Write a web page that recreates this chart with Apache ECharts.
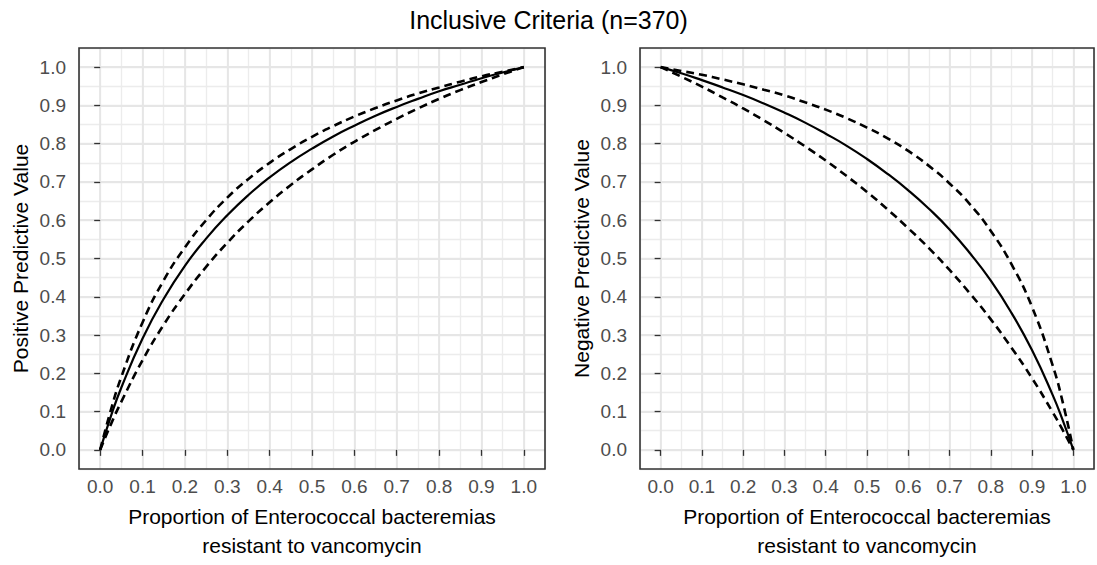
<!DOCTYPE html>
<html>
<head>
<meta charset="utf-8">
<script src="https://cdn.jsdelivr.net/npm/echarts@6/dist/echarts.min.js"></script>
<style>
  html, body { margin: 0; padding: 0; background: #fff; overflow: hidden; }
  #chart { width: 1097px; height: 565px; }
</style>
</head>
<body>
<div id="chart"></div>
<script>
// Werte
var prevLeft = [0, 0.025, 0.05, 0.1, 0.15, 0.2, 0.25, 0.3, 0.35, 0.4, 0.45, 0.5, 0.55, 0.6, 0.65, 0.7, 0.75, 0.8, 0.85, 0.9, 0.95, 1];
var ppvEst  = [0, 0.087, 0.163, 0.291, 0.395, 0.481, 0.552, 0.613, 0.666, 0.712, 0.752, 0.787, 0.819, 0.847, 0.873, 0.896, 0.917, 0.937, 0.954, 0.971, 0.986, 1];
var ppvHigh = [0, 0.103, 0.191, 0.333, 0.443, 0.529, 0.600, 0.659, 0.708, 0.750, 0.786, 0.818, 0.846, 0.871, 0.893, 0.913, 0.931, 0.947, 0.962, 0.976, 0.988, 1];
var ppvLow  = [0, 0.066, 0.126, 0.234, 0.327, 0.407, 0.478, 0.541, 0.597, 0.647, 0.692, 0.733, 0.771, 0.805, 0.836, 0.865, 0.892, 0.917, 0.940, 0.961, 0.981, 1];

var prevRight = [0, 0.05, 0.1, 0.15, 0.2, 0.25, 0.3, 0.35, 0.4, 0.45, 0.5, 0.55, 0.6, 0.65, 0.7, 0.75, 0.8, 0.85, 0.9, 0.95, 0.975, 1];
var npvEst  = [1, 0.984, 0.966, 0.947, 0.927, 0.905, 0.881, 0.855, 0.826, 0.795, 0.760, 0.721, 0.678, 0.630, 0.576, 0.513, 0.442, 0.358, 0.260, 0.143, 0.075, 0];
var npvHigh = [1, 0.990, 0.980, 0.968, 0.955, 0.941, 0.926, 0.908, 0.889, 0.867, 0.842, 0.814, 0.781, 0.742, 0.696, 0.641, 0.572, 0.485, 0.373, 0.220, 0.121, 0];
var npvLow  = [1, 0.975, 0.949, 0.921, 0.892, 0.861, 0.828, 0.793, 0.756, 0.716, 0.674, 0.628, 0.579, 0.527, 0.470, 0.408, 0.341, 0.267, 0.187, 0.098, 0.050, 0];

var tickValues = [0, 0.1, 0.2, 0.3, 0.4, 0.5, 0.6, 0.7, 0.8, 0.9, 1.0];

var xTitle = 'Proportion of Enterococcal bacteremias\nresistant to vancomycin';
var font = '"Liberation Sans", Arial, sans-serif';

function pairs(xs, ys) {
	return xs.map(function (x, i) { return [x, ys[i]]; });
}

// Nur die Werte aus tickValues beschriften
function tickLabel(v) {
	for (var i = 0; i < tickValues.length; i++) {
		if (Math.abs(tickValues[i] - v) < 1e-6) return tickValues[i].toFixed(1);
	}
	return '';
}

// Hauptachse: Beschriftung, Ticks und Hauptgitter (ggplot theme_bw)
function makeAxis(gridIndex, name, isX) {
	return {
		type: 'value',
		gridIndex: gridIndex,
		min: -0.05,
		max: 1.05,
		interval: 0.05,
		name: name,
		nameLocation: 'middle',
		nameGap: isX ? 33 : 44,
		nameTextStyle: { color: '#000', fontSize: 21, fontFamily: font, lineHeight: 29 },
		axisLine: { show: false },
		axisTick: { show: true, customValues: tickValues, length: 6, lineStyle: { color: '#333', width: 1.3 } },
		axisLabel: {
			color: '#4d4d4d',
			fontSize: 19,
			fontFamily: font,
			margin: isX ? 8 : 13,
			showMinLabel: true,
			showMaxLabel: true,
			formatter: tickLabel
		},
		splitLine: { show: true, lineStyle: { color: '#e6e6e6', width: 1.8 } },
		z: 1
	};
}

// Nebenachse nur für das Nebengitter alle 0.05
function minorAxis(gridIndex) {
	return {
		type: 'value',
		gridIndex: gridIndex,
		min: -0.05,
		max: 1.05,
		interval: 0.05,
		axisLine: { show: false },
		axisTick: { show: false },
		axisLabel: { show: false },
		splitLine: { show: true, lineStyle: { color: '#ececec', width: 1.3 } },
		z: 0
	};
}

function line(name, data, xi, dashed) {
	return {
		name: name,
		type: 'line',
		xAxisIndex: xi,
		yAxisIndex: xi,
		data: data,
		smooth: true,
		symbol: 'none',
		silent: true,
		z: 5,
		lineStyle: dashed
			? { color: '#000', width: 2.6, type: [8, 5] }
			: { color: '#000', width: 2.2 }
	};
}

var chart = echarts.init(document.getElementById('chart'), null, { renderer: 'svg' });

chart.setOption({
	animation: false,
	title: {
		text: 'Inclusive Criteria (n=370)',
		left: 'center',
		top: 2,
		textStyle: { color: '#000', fontSize: 25, fontWeight: 'normal', fontFamily: font }
	},
	grid: [
		{ left: 79, top: 48, width: 466, height: 426, show: true, borderColor: '#333', borderWidth: 1.6, backgroundColor: 'transparent', z: 6 },
		{ left: 640, top: 48, width: 462, height: 426, show: true, borderColor: '#333', borderWidth: 1.6, backgroundColor: 'transparent', z: 6 }
	],
	xAxis: [
		makeAxis(0, xTitle, true),
		makeAxis(1, xTitle, true),
		minorAxis(0),
		minorAxis(1)
	],
	yAxis: [
		makeAxis(0, 'Positive Predictive Value', false),
		makeAxis(1, 'Negative Predictive Value', false),
		minorAxis(0),
		minorAxis(1)
	],
	series: [
		line('PPV', pairs(prevLeft, ppvEst), 0, false),
		line('PPV obere Grenze', pairs(prevLeft, ppvHigh), 0, true),
		line('PPV untere Grenze', pairs(prevLeft, ppvLow), 0, true),
		line('NPV', pairs(prevRight, npvEst), 1, false),
		line('NPV obere Grenze', pairs(prevRight, npvHigh), 1, true),
		line('NPV untere Grenze', pairs(prevRight, npvLow), 1, true)
	]
});
</script>
</body>
</html>
